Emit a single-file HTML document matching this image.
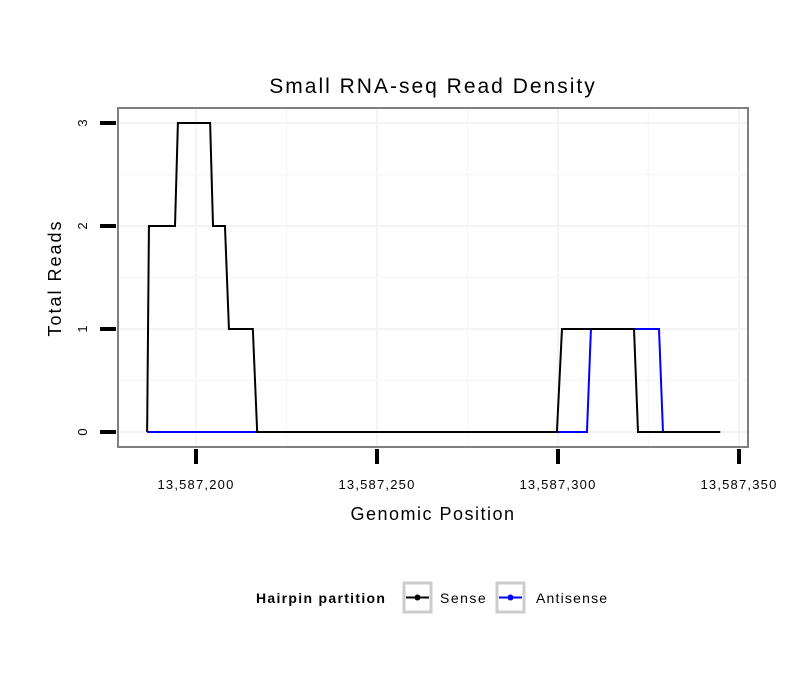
<!DOCTYPE html>
<html><head><meta charset="utf-8"><style>
body{margin:0;background:#fff;}
svg text{font-family:"Liberation Sans",sans-serif;}
</style></head><body>
<svg id="chart" width="810" height="690" viewBox="0 0 810 690" xmlns="http://www.w3.org/2000/svg">
<rect width="810" height="690" fill="#fff"/>
<text x="433" y="93" font-size="21" letter-spacing="2" text-anchor="middle">Small RNA-seq Read Density</text>
<g id="grid"></g>
<g id="series"></g>
<rect x="118" y="108" width="630" height="339" fill="none" stroke="#7f7f7f" stroke-width="2"/>
<g id="axes"></g>
<text x="433" y="520" font-size="18" letter-spacing="1.5" text-anchor="middle">Genomic Position</text>
<text transform="translate(61,278) rotate(-90)" font-size="18" letter-spacing="2" text-anchor="middle">Total Reads</text>
<g>
<text x="256" y="603" font-size="14" letter-spacing="1.3" font-weight="bold">Hairpin partition</text>
<g>
<rect x="404" y="583" width="27" height="29" fill="#fff" stroke="#ccc" stroke-width="3"/>
<line x1="406" y1="597.5" x2="429" y2="597.5" stroke="#000" stroke-width="2"/>
<circle cx="417.5" cy="597.5" r="3" fill="#000"/>
<text x="440" y="603" font-size="14" letter-spacing="1.5">Sense</text></g>
<g>
<rect x="497" y="583" width="27" height="29" fill="#fff" stroke="#ccc" stroke-width="3"/>
<line x1="499" y1="597.5" x2="522" y2="597.5" stroke="#0000ff" stroke-width="2"/>
<circle cx="510.5" cy="597.5" r="3" fill="#0000ff"/>
<text x="536" y="603" font-size="14" letter-spacing="1.2">Antisense</text></g>
</g>
</svg>
<script>
const xTicks=[13587200,13587250,13587300,13587350];
const xTickLabels=["13,587,200","13,587,250","13,587,300","13,587,350"];
const yTicks=[0,1,2,3];
const senseX=[13587186.5,13587187,13587194.2,13587195,13587203.9,13587204.7,13587208,13587209.1,13587215.7,13587216.9,13587299.7,13587301.1,13587321,13587322.1,13587344.8];
const senseY=[0,2,2,3,3,2,2,1,1,0,0,1,1,0,0];
const antiX=[13587186.5,13587308,13587309.1,13587327.9,13587329,13587344.8];
const antiY=[0,0,1,1,0,0];
const NS="http://www.w3.org/2000/svg";
function sx(v){return 196+(v-13587200)*3.62;}
function sy(v){return 432-v*103;}
function mk(tag,attrs,parent){const e=document.createElementNS(NS,tag);for(const k in attrs)e.setAttribute(k,attrs[k]);parent.appendChild(e);return e;}
const grid=document.getElementById('grid'),axes=document.getElementById('axes'),ser=document.getElementById('series');
for(let i=0;i<xTicks.length;i++){
  const x=sx(xTicks[i]);
  if(x<748){const g=mk('line',{x1:x,x2:x,y1:108,y2:447,stroke:'#f4f4f4','stroke-width':2},grid);
  
  }
  const m=sx(xTicks[i]+25);
  if(m<748){const g2=mk('line',{x1:m,x2:m,y1:108,y2:447,stroke:'#f8f8f8','stroke-width':2},grid);
  
  }
  const t=mk('line',{x1:x,x2:x,y1:449,y2:464,stroke:'#000','stroke-width':4},axes);
  
  
  const l=mk('text',{x:x,y:489,'font-size':13,'letter-spacing':1.2,'text-anchor':'middle'},axes);
  l.textContent=xTickLabels[i];
  
  
}
for(let i=0;i<yTicks.length;i++){
  const y=sy(yTicks[i]);
  const g=mk('line',{x1:118,x2:748,y1:y,y2:y,stroke:'#f4f4f4','stroke-width':2},grid);
  
  
  if(i<yTicks.length-1){const m=sy(yTicks[i]+0.5);
  const g2=mk('line',{x1:118,x2:748,y1:m,y2:m,stroke:'#f8f8f8','stroke-width':2},grid);
  
  }
  const t=mk('line',{x1:100,x2:116,y1:y,y2:y,stroke:'#000','stroke-width':4},axes);
  
  
  const l=mk('text',{transform:`translate(87,${y}) rotate(-90)`,'font-size':13,'text-anchor':'middle'},axes);
  l.textContent=String(yTicks[i]);
  
  
}
function line(xs,ys,color,name){
  const p=mk('polyline',{points:xs.map((v,i)=>sx(v)+','+sy(ys[i])).join(' '),fill:'none',stroke:color,'stroke-width':2},ser);
  
  
}
line(antiX,antiY,'#0000ff','antisense-line');
line(senseX,senseY,'#000','sense-line');
</script>
</body></html>
